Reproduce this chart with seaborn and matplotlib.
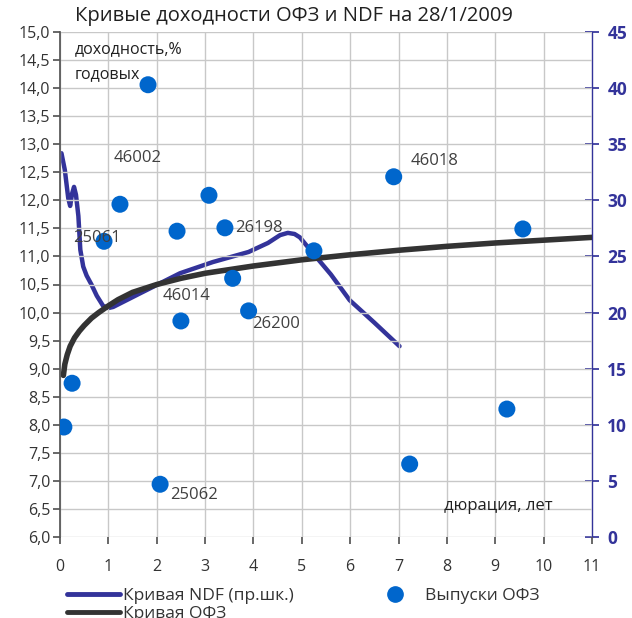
import matplotlib
matplotlib.use("Agg")
import matplotlib.pyplot as plt
import seaborn as sns
import pandas as pd
from matplotlib.ticker import FixedLocator, FuncFormatter
from matplotlib.lines import Line2D

sns.set_theme(style="white")
plt.rcParams['font.family'] = ['Open Sans', 'DejaVu Sans']

# OFZ issues (duration, yield)
ofz_dur = [0.08, 0.25, 0.91, 1.24, 1.82, 2.07, 2.42, 2.50, 3.08, 3.41, 3.57, 3.90, 5.25, 6.90, 7.23, 9.24, 9.57]
ofz_yld = [7.96, 8.74, 11.27, 11.93, 14.06, 6.94, 11.45, 9.85, 12.09, 11.51, 10.61, 10.03, 11.10, 12.42, 7.30, 8.28, 11.49]

# OFZ curve
curve_x = [0.07, 0.10, 0.15, 0.21, 0.3, 0.4, 0.5, 0.65, 0.8, 1.0, 1.2, 1.5, 2, 2.5, 3, 4, 5, 6, 7, 8, 9, 10, 11]
curve_y = [8.88, 9.08, 9.25, 9.4, 9.55, 9.67, 9.77, 9.9, 10.0, 10.12, 10.23, 10.36, 10.5, 10.61, 10.7, 10.83, 10.94, 11.03, 11.11, 11.18, 11.24, 11.29, 11.34]

# NDF curve (right scale)
ndf_x = [0.03, 0.10, 0.17, 0.21, 0.25, 0.29, 0.33, 0.38, 0.42, 0.48, 0.55, 0.65, 0.76, 0.89, 1.0, 1.10, 1.65, 2.48, 3.16, 3.9, 4.3, 4.55, 4.71, 4.85, 4.96, 5.17, 5.6, 5.99, 6.5, 7.02]
ndf_y = [34.2, 32.7, 30.2, 29.5, 30.6, 31.2, 30.5, 28.6, 25.6, 24.1, 23.3, 22.5, 21.5, 20.6, 20.4, 20.5, 21.7, 23.5, 24.5, 25.4, 26.2, 26.9, 27.1, 27.0, 26.7, 25.6, 23.4, 21.1, 19.1, 17.0]

labels = ["46002", "25061", "46014", "26198", "26200", "46018", "25062"]
label_x = [1.1, 0.27, 2.12, 3.62, 3.98, 7.25, 2.28]
label_y = [12.75, 11.33, 10.3, 11.5, 9.8, 12.7, 6.75]

title = "Кривые доходности ОФЗ и NDF на 28/1/2009"

fig = plt.figure(figsize=(6.32, 6.18), dpi=100)
ax = fig.add_axes([60/632, 1-537/618, 532/632, 505/618])
ax2 = ax.twinx()
ax.set_zorder(ax2.get_zorder() + 1)
ax.patch.set_visible(False)

navy = "#33339a"
dotc = "#0066cc"
gridc = "#c8c8c8"

sns.lineplot(x=ndf_x, y=ndf_y, ax=ax2, color=navy, linewidth=3.2, sort=False, estimator=None)
sns.lineplot(x=curve_x, y=curve_y, ax=ax, color="#333333", linewidth=4, sort=False, estimator=None)
sns.scatterplot(x=ofz_dur, y=ofz_yld, ax=ax, color=dotc, s=150, edgecolor="none", zorder=5)

ax.set_xlim(0, 11)
ax.set_ylim(6, 15)
ax2.set_ylim(0, 45)

ax.xaxis.set_major_locator(FixedLocator(range(0, 12)))
ax.yaxis.set_major_locator(FixedLocator([6 + 0.5*i for i in range(19)]))
ax.yaxis.set_major_formatter(FuncFormatter(lambda v, p: f"{v:.1f}".replace(".", ",")))
ax2.yaxis.set_major_locator(FixedLocator(range(0, 46, 5)))

ax.grid(True, color=gridc, linewidth=1)
ax2.grid(False)

for s in ["top", "right", "bottom"]:
    ax.spines[s].set_visible(False)
for s in ["top", "left", "bottom"]:
    ax2.spines[s].set_visible(False)
ax.spines["left"].set_color("#555555")
ax2.spines["right"].set_color(navy)
ax2.spines["right"].set_linewidth(1)

ax.tick_params(axis="y", direction="out", length=5, color="#555555", labelsize=11.5, labelcolor="#333333", left=True, pad=2)
ax.tick_params(axis="x", direction="out", length=5, color="#555555", labelsize=11.5, labelcolor="#333333", bottom=True, pad=11)
ax2.tick_params(axis="y", direction="inout", length=10, color=navy, labelsize=12.5, labelcolor=navy, right=True, pad=6)
for t in ax2.get_yticklabels():
    t.set_fontweight("bold")

ax.set_xlabel("")
ax.set_ylabel("")
ax2.set_ylabel("")

for lab, x, y in zip(labels, label_x, label_y):
    ax.text(x, y, lab, fontsize=12, color="#404040", ha="left", va="center", zorder=10)

ax.text(0.3, 14.48, "доходность,%\nгодовых", fontsize=11.5, color="#202020", ha="left", va="center", linespacing=1.75)
ax.text(7.95, 6.55, "дюрация, лет", fontsize=12, color="#202020", ha="left", va="center")

fig.text(75/632, 1-16/618, title, fontsize=14.5, color="#202020", ha="left", va="center")

handles = [Line2D([], [], color=navy, linewidth=3.5),
           Line2D([], [], color="#333333", linewidth=3.5),
           Line2D([], [], color=dotc, marker="o", linestyle="none", markersize=11)]
names = ["Кривая NDF (пр.шк.)", "Кривая ОФЗ", "Выпуски ОФЗ"]
fig.legend(handles, names, ncol=2, loc="upper left", bbox_to_anchor=(51/632, 1-572/618),
           frameon=False, fontsize=12.5, handlelength=3.1, handletextpad=0.15, columnspacing=4.3,
           labelspacing=0.1, labelcolor="#333333")

fig.savefig("out.png", dpi=100)
